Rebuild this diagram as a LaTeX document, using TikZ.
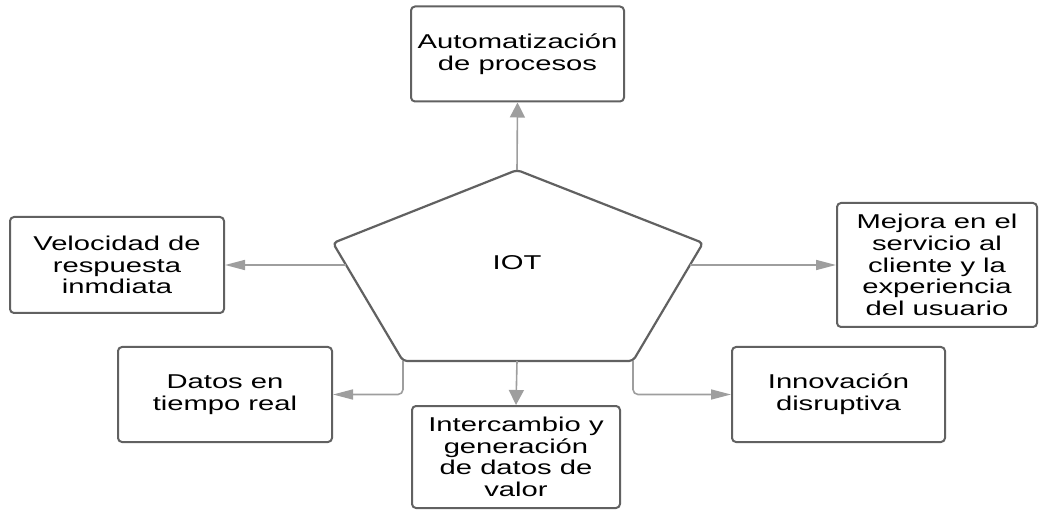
\documentclass[tikz,border=0pt]{standalone}
\usepackage{fontspec}
\setmainfont{Liberation Sans}[FakeStretch=1.46]
\usetikzlibrary{arrows.meta}
\begin{document}
\begin{tikzpicture}[x=1pt,y=-1pt,
  box/.style={draw=black!62, line width=2pt, rounded corners=4pt, fill=white,
    inner sep=0pt, align=center, font=\fontsize{20}{21.7}\selectfont},
  conn/.style={draw=black!38, line width=1.6pt, rounded corners=5pt},
  harr/.style={conn, -{Triangle[length=20pt,width=10pt]}},
  varr/.style={conn, -{Triangle[length=15pt,width=15pt]}},
  pent/.style={draw=black!62, line width=2.2pt, rounded corners=4pt, fill=white}]
\useasboundingbox (0,0) rectangle (1041,510);
% boxes
\node[box, minimum width=213pt, minimum height=95pt] (auto) at (517.5,54) {Automatización\\de procesos};
\node[box, minimum width=214pt, minimum height=96pt] (vel) at (117,265) {Velocidad de\\respuesta\\inmdiata};
\node[box, minimum width=214pt, minimum height=95pt] (datos) at (225,394.5) {Datos en\\tiempo real};
\node[box, minimum width=208pt, minimum height=102pt] (inter) at (516,457) {Intercambio y\\generación\\de datos de\\valor};
\node[box, minimum width=213pt, minimum height=95pt] (inno) at (838.5,394.5) {Innovación\\disruptiva};
\node[box, minimum width=200pt, minimum height=124pt] (mej) at (937,265) {Mejora en el\\servicio al\\cliente y la\\experiencia\\del usuario};
% pentagon
\coordinate (pT) at (517,170);
\coordinate (pL) at (333,243);
\coordinate (pR) at (703,243);
\coordinate (pBL) at (403,361);
\coordinate (pBR) at (633,361);
\path[pent] (pT) -- (pR) -- (pBR) -- (pBL) -- (pL) -- cycle;
\node[font=\fontsize{20}{22}\selectfont] (iot) at (517,263) {IOT};
% connector anchors
\coordinate (cL) at (346,265);
\coordinate (cR) at (690,265);
\coordinate (cB) at (517,361);
% connectors
\draw[varr] (pT) -- (auto.south);
\draw[harr] (cL) -- (vel.east);
\draw[harr] (cR) -- (mej.west);
\draw[varr] (cB) -- (inter.north);
\draw[harr] (pBL) |- (datos.east);
\draw[harr] (pBR) |- (inno.west);
\end{tikzpicture}
\end{document}
